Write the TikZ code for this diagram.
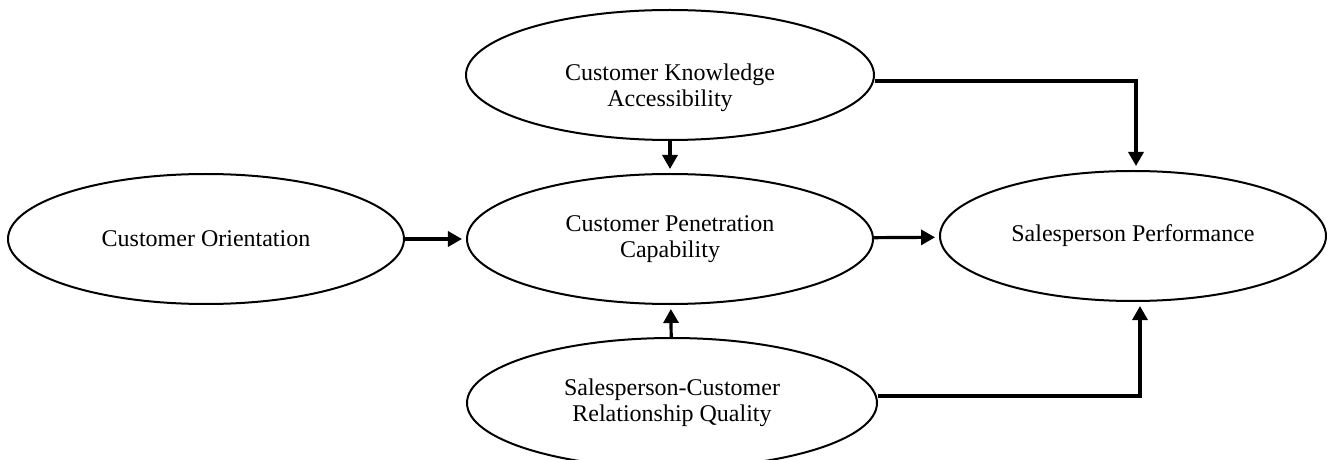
\documentclass[tikz,border=0pt]{standalone}
\usepackage{fontspec}
\setmainfont{Liberation Serif}
\usetikzlibrary{shapes.geometric,arrows.meta}

\begin{document}
\begin{tikzpicture}[
    node distance=82pt,
    construct/.style={ellipse, draw, line width=1pt, inner sep=0pt, minimum width=203pt, minimum height=65pt, align=center, font=\fontsize{12}{13}\selectfont},
    caption/.style={align=center, inner sep=0pt, font=\fontsize{12}{13}\selectfont},
    link/.style={line width=1.6pt, -{Triangle[length=7pt,width=7.5pt]}, shorten >=2pt}
]

\path [use as bounding box, clip] (-335pt,119.5pt) rectangle (328.5pt,-110.5pt);

\node [construct] (cpc) {Customer Penetration\\Capability};
\node [construct, minimum width=204pt, above of=cpc] (cka) {};
\node [caption, yshift=-6.5pt] (cka-text) at (cka) {Customer Knowledge\\Accessibility};
\node [construct, minimum width=205pt, below of=cpc, xshift=1pt] (scrq) {Salesperson-Customer\\Relationship Quality};
\node [construct, minimum width=198pt, node distance=232pt, left of=cpc] (co) {Customer Orientation};
\node [construct, minimum width=193pt, node distance=231.5pt, right of=cpc, yshift=1.5pt] (sp) {Salesperson Performance};

\draw [link] (co) -- (cpc);
\draw [link] (cka) -- (cpc);
\draw [link] (scrq) -- (cpc);
\draw [link] (cpc) -- (sp);
\draw [link] ([yshift=-3pt]cka.east) -| ([xshift=1.5pt]sp.north);
\draw [link] ([yshift=3.5pt]scrq.east) -| ([xshift=3.5pt]sp.south);

\end{tikzpicture}
\end{document}
